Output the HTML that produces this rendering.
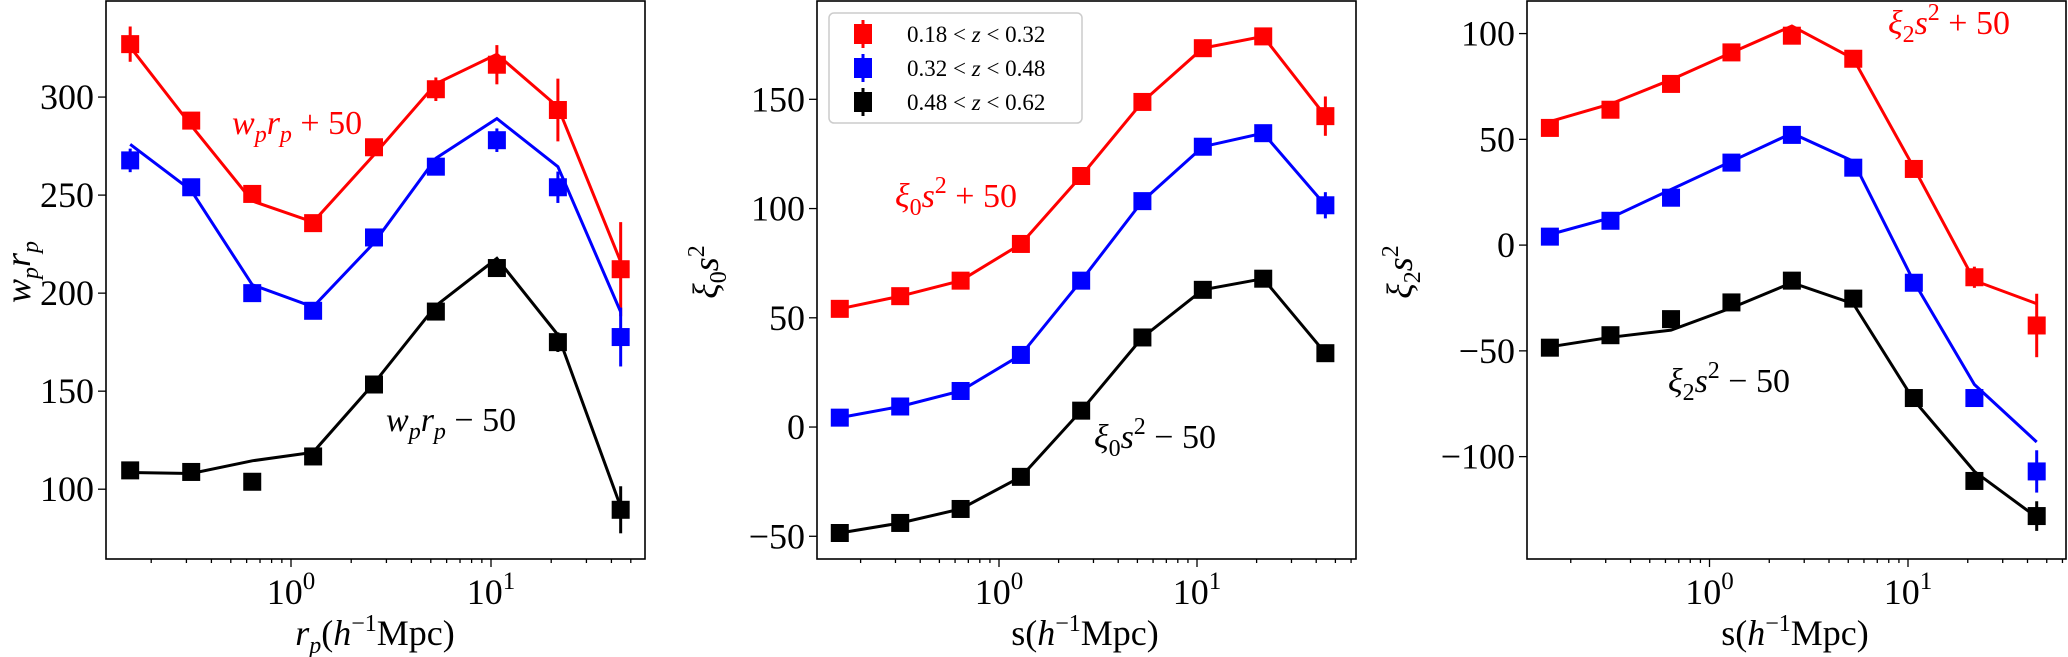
<!DOCTYPE html>
<html><head><meta charset="utf-8">
<style>
html,body{margin:0;padding:0;background:#fff;}
svg{display:block;}
text{font-family:"Liberation Serif","DejaVu Serif",serif;}
</style></head>
<body>
<svg id="fig" width="2068" height="657" viewBox="0 0 2068 657" xmlns="http://www.w3.org/2000/svg"></svg>
<script>
// ---- data ----
const xValues = [0.157, 0.317, 0.64, 1.29, 2.6, 5.3, 10.7, 21.6, 44.5];
const seriesColors = ["#ff0000", "#0000ff", "#000000"];
const legendLabels = ["0.18 < z < 0.32", "0.32 < z < 0.48", "0.48 < z < 0.62"];

// Panel 1: w_p r_p
const wpRed = [327, 288, 250.6, 235.7, 274.4, 304, 316.5, 293.4, 212.2];
const wpRedErr = [9, 2, 2, 2, 3, 6, 10, 16, 24];
const wpRedModel = [325.6, 285.5, 247, 236.3, 270.5, 306.8, 321.8, 295, 216];
const wpBlue = [267.7, 254, 200, 191, 228.4, 264.5, 278, 254, 177.6];
const wpBlueErr = [6, 2, 2, 2, 2, 3, 6, 8, 15];
const wpBlueModel = [275.9, 252.4, 204.3, 193, 225.6, 268.8, 289, 264.5, 190.4];
const wpBlack = [109.6, 108.8, 103.8, 116.7, 153.4, 190.6, 212.8, 175, 89.5];
const wpBlackErr = [2, 2, 2, 2, 2, 2, 3, 5, 12];
const wpBlackModel = [108.5, 108, 114.5, 118.8, 154, 193.6, 217.7, 178.7, 91];
const wpYTicks = [100, 150, 200, 250, 300];

// Panel 2: xi0 s^2
const x0Red = [54.1, 59.9, 67, 83.8, 114.9, 148.8, 173.4, 178.8, 142.3];
const x0RedErr = [1, 1, 1, 1, 1, 1, 2, 3, 9];
const x0Blue = [4.3, 9.4, 16.5, 33, 67, 103.4, 128.3, 134.5, 101.5];
const x0BlueErr = [1, 1, 1, 1, 1, 1, 1, 2, 6];
const x0Black = [-48.5, -43.9, -37.5, -22.8, 7.5, 41, 62.8, 67.9, 33.8];
const x0BlackErr = [1, 1, 1, 1, 1, 1, 1, 2, 4];
const x0YTicks = [-50, 0, 50, 100, 150];

// Panel 3: xi2 s^2
const x2Red = [55.4, 64, 76.2, 91.1, 99, 88.1, 36, -15.2, -38];
const x2RedErr = [1, 1, 1, 1, 2, 1, 2, 5, 15];
const x2RedModel = [58.4, 66.7, 78.2, 91, 103.6, 88.1, 36.6, -16.8, -27.7];
const x2Blue = [4, 11.5, 22.4, 39, 52.1, 36.6, -17.8, -72.3, -107];
const x2BlueErr = [1, 1, 1, 1, 1, 1, 2, 3, 10];
const x2BlueModel = [5, 12.9, 26.3, 39.6, 52.9, 39.6, -17.2, -65.9, -93.1];
const x2Black = [-48.5, -42.6, -35, -27.1, -16.8, -25.3, -72.3, -111.5, -128.1];
const x2BlackErr = [1, 1, 2, 1, 1, 1, 2, 3, 7];
const x2BlackModel = [-48.1, -43.6, -40.2, -29.7, -17.8, -27.7, -73.3, -107, -128.7];
const x2YTicks = [-100, -50, 0, 50, 100];

// ---- drawing ----
const NS = "http://www.w3.org/2000/svg";
const svg = document.getElementById("fig");
function mk(tag, attrs, parent) {
  const e = document.createElementNS(NS, tag);
  for (const k in attrs) e.setAttribute(k, attrs[k]);
  (parent || svg).appendChild(e);
  return e;
}

const panels = [
  {key:"wp", L:106, R:645, T:1, B:559, x0px:291, x1px:491, ymin:64.4, ymax:349, ticks:wpYTicks,
   series:[[wpRed,wpRedErr,wpRedModel],[wpBlue,wpBlueErr,wpBlueModel],[wpBlack,wpBlackErr,wpBlackModel]],
   xlabel:'<tspan font-style="italic">r</tspan><tspan font-style="italic" font-size="24" dy="8">p</tspan><tspan dy="-8">(</tspan><tspan font-style="italic">h</tspan><tspan font-size="24" dy="-14">−1</tspan><tspan dy="14">Mpc)</tspan>',
   xlabelX:375,
   ylabel:'<tspan font-style="italic">w</tspan><tspan font-style="italic" font-size="24" dy="8">p</tspan><tspan font-style="italic" dy="-8">r</tspan><tspan font-style="italic" font-size="24" dy="8">p</tspan>',
   ylabelX:30,
   redLbl:{x:232,y:134,html:'<tspan font-style="italic">w</tspan><tspan font-style="italic" font-size="24" dy="8">p</tspan><tspan font-style="italic" dy="-8">r</tspan><tspan font-style="italic" font-size="24" dy="8">p</tspan><tspan dy="-8"> + 50</tspan>'},
   blkLbl:{x:386,y:431,html:'<tspan font-style="italic">w</tspan><tspan font-style="italic" font-size="24" dy="8">p</tspan><tspan font-style="italic" dy="-8">r</tspan><tspan font-style="italic" font-size="24" dy="8">p</tspan><tspan dy="-8"> − 50</tspan>'}},
  {key:"xi0", L:817, R:1356, T:1, B:559, x0px:999, x1px:1197, ymin:-60.4, ymax:195, ticks:x0YTicks,
   series:[[x0Red,x0RedErr,x0Red],[x0Blue,x0BlueErr,x0Blue],[x0Black,x0BlackErr,x0Black]],
   xlabel:'s(<tspan font-style="italic">h</tspan><tspan font-size="24" dy="-14">−1</tspan><tspan dy="14">Mpc)</tspan>',
   xlabelX:1085,
   ylabel:'<tspan font-style="italic">ξ</tspan><tspan font-size="24" dy="8">0</tspan><tspan font-style="italic" dy="-8">s</tspan><tspan font-size="24" dy="-14">2</tspan>',
   ylabelX:718,
   redLbl:{x:895,y:207,html:'<tspan font-style="italic">ξ</tspan><tspan font-size="24" dy="8">0</tspan><tspan font-style="italic" dy="-8">s</tspan><tspan font-size="24" dy="-14">2</tspan><tspan dy="14"> + 50</tspan>'},
   blkLbl:{x:1094,y:448,html:'<tspan font-style="italic">ξ</tspan><tspan font-size="24" dy="8">0</tspan><tspan font-style="italic" dy="-8">s</tspan><tspan font-size="24" dy="-14">2</tspan><tspan dy="14"> − 50</tspan>'}},
  {key:"xi2", L:1527, R:2066, T:1, B:559, x0px:1709.5, x1px:1908, ymin:-148.4, ymax:115.4, ticks:x2YTicks,
   series:[[x2Red,x2RedErr,x2RedModel],[x2Blue,x2BlueErr,x2BlueModel],[x2Black,x2BlackErr,x2BlackModel]],
   xlabel:'s(<tspan font-style="italic">h</tspan><tspan font-size="24" dy="-14">−1</tspan><tspan dy="14">Mpc)</tspan>',
   xlabelX:1795,
   ylabel:'<tspan font-style="italic">ξ</tspan><tspan font-size="24" dy="8">2</tspan><tspan font-style="italic" dy="-8">s</tspan><tspan font-size="24" dy="-14">2</tspan>',
   ylabelX:1412,
   redLbl:{x:1888,y:34,html:'<tspan font-style="italic">ξ</tspan><tspan font-size="24" dy="8">2</tspan><tspan font-style="italic" dy="-8">s</tspan><tspan font-size="24" dy="-14">2</tspan><tspan dy="14"> + 50</tspan>'},
   blkLbl:{x:1668,y:392,html:'<tspan font-style="italic">ξ</tspan><tspan font-size="24" dy="8">2</tspan><tspan font-style="italic" dy="-8">s</tspan><tspan font-size="24" dy="-14">2</tspan><tspan dy="14"> − 50</tspan>'}}
];
const seriesNames = ["red", "blue", "black"];

panels.forEach(p => {
  const g = mk("g", {});
  
  
  const dec = p.x1px - p.x0px;
  const xs = v => p.x0px + Math.log10(v) * dec;
  const ys = v => p.B - (v - p.ymin) / (p.ymax - p.ymin) * (p.B - p.T);

  // ticks x
  for (let e = -1; e <= 1; e++) {
    for (let m = 1; m <= 9; m++) {
      const v = m * Math.pow(10, e);
      const x = xs(v);
      if (x < p.L || x > p.R) continue;
      const len = m === 1 ? 8 : 4;
      const t = mk("line", {x1:x, x2:x, y1:p.B, y2:p.B + len, stroke:"#000", "stroke-width":1.3}, g);
      
      
      if (m === 1) {
        const tl = mk("text", {x:x, y:604, "font-size":36, "text-anchor":"middle"}, g);
        tl.innerHTML = '10<tspan font-size="25" dy="-15">' + e + '</tspan>';
        
        
      }
    }
  }
  // ticks y
  p.ticks.forEach(v => {
    const y = ys(v);
    const t = mk("line", {x1:p.L - 8, x2:p.L, y1:y, y2:y, stroke:"#000", "stroke-width":1.3}, g);
    
    
    const tl = mk("text", {x:p.L - 12, y:y + 12, "font-size":36, "text-anchor":"end"}, g);
    tl.textContent = v < 0 ? "−" + Math.abs(v) : String(v);
    
    
  });

  // series
  p.series.forEach((s, si) => {
    const col = seriesColors[si];
    const [vals, errs, model] = s;
    const pts = model.map((v, i) => xs(xValues[i]).toFixed(1) + "," + ys(v).toFixed(1)).join(" ");
    const ln = mk("polyline", {points:pts, fill:"none", stroke:col, "stroke-width":3, "stroke-linejoin":"miter"}, g);
    
    
    vals.forEach((v, i) => {
      const x = xs(xValues[i]), y = ys(v);
      const eb = mk("line", {x1:x, x2:x, y1:ys(v + errs[i]), y2:ys(v - errs[i]), stroke:col, "stroke-width":3}, g);
      
      
      const mkr = mk("rect", {x:x - 9, y:y - 9, width:18, height:18, fill:col}, g);
      
      
    });
  });

  // frame
  const fr = mk("rect", {x:p.L, y:p.T, width:p.R - p.L, height:p.B - p.T, fill:"none", stroke:"#000", "stroke-width":1.6}, g);
  
  

  // labels
  const xl = mk("text", {x:p.xlabelX, y:645, "font-size":36, "text-anchor":"middle"}, g);
  xl.innerHTML = p.xlabel;
  
  
  const yl = mk("text", {x:0, y:0, "font-size":36, "text-anchor":"middle", transform:"translate(" + p.ylabelX + ",272) rotate(-90)"}, g);
  yl.innerHTML = p.ylabel;
  
  
  const rl = mk("text", {x:p.redLbl.x, y:p.redLbl.y, "font-size":34, fill:"#ff0000"}, g);
  rl.innerHTML = p.redLbl.html;
  
  
  const bl = mk("text", {x:p.blkLbl.x, y:p.blkLbl.y, "font-size":34, fill:"#000"}, g);
  bl.innerHTML = p.blkLbl.html;
  
  
});

// legend
const lg = mk("g", {});


const lbox = mk("rect", {x:829, y:13, width:253, height:110, rx:5, fill:"#fff", "fill-opacity":0.8, stroke:"#cccccc", "stroke-width":1.5}, lg);


legendLabels.forEach((lab, i) => {
  const cy = 34 + i * 34;
  const eb = mk("line", {x1:863, x2:863, y1:cy - 14, y2:cy + 14, stroke:seriesColors[i], "stroke-width":3}, lg);
  
  
  const m = mk("rect", {x:854, y:cy - 10, width:18, height:20, fill:seriesColors[i]}, lg);
  
  
  const parts = lab.split(" z ");
  const t = mk("text", {x:907, y:cy + 8, "font-size":23}, lg);
  t.innerHTML = parts[0] + ' <tspan font-style="italic">z</tspan> ' + parts[1];
  
  
});
</script>
</body></html>
